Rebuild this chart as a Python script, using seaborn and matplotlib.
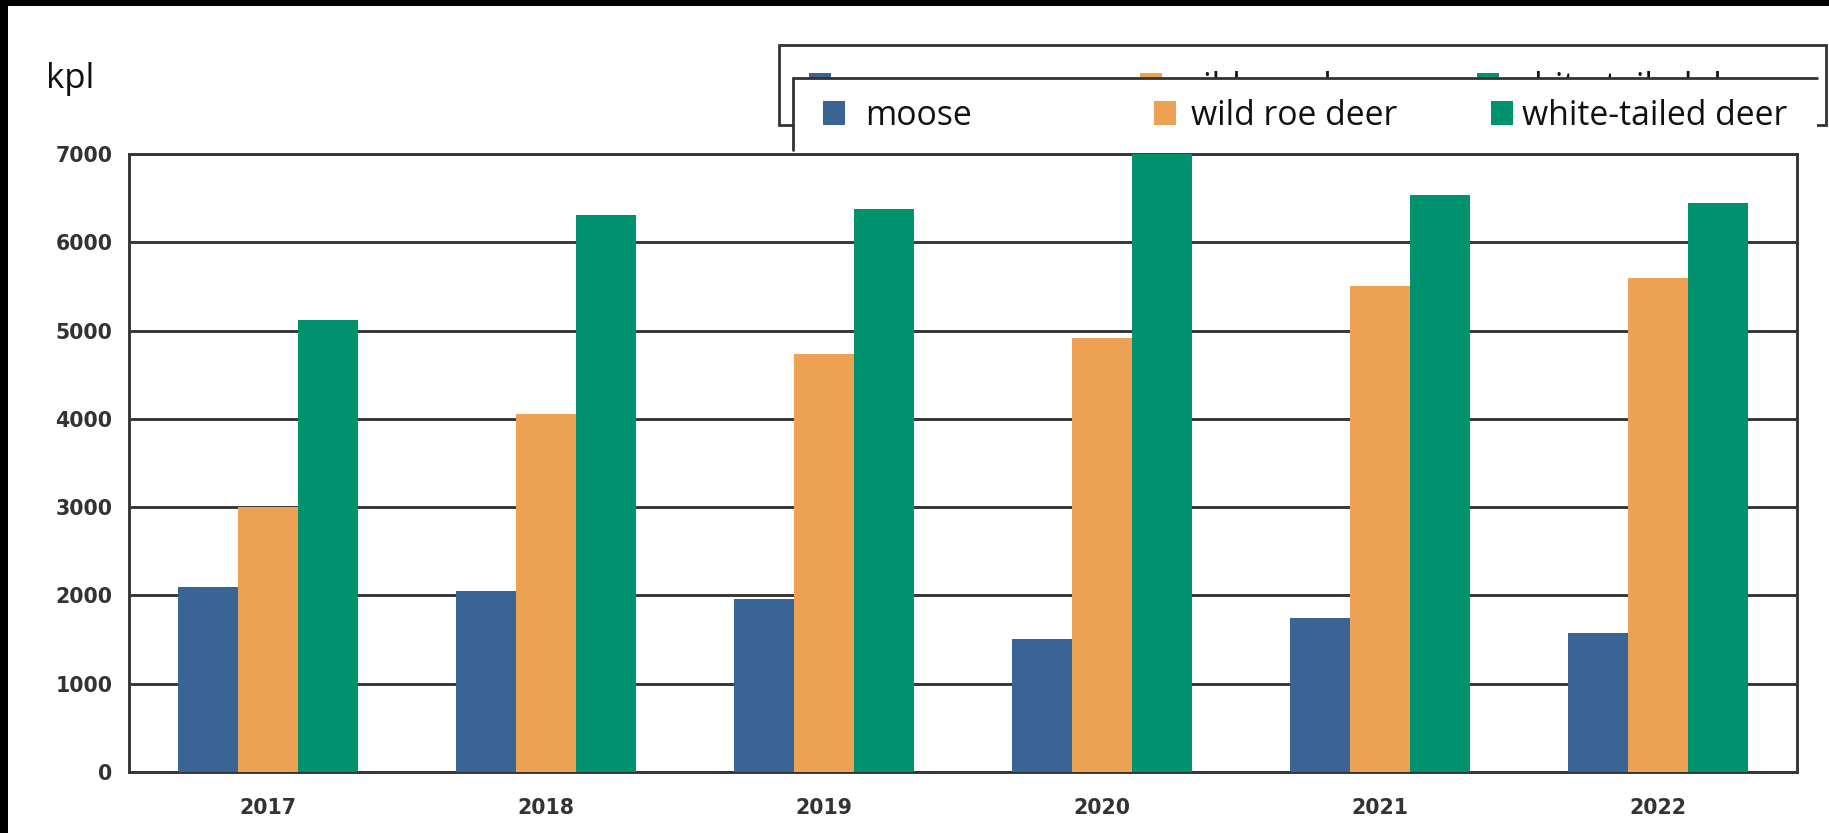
import numpy as np
import pandas as pd
import matplotlib
matplotlib.use("Agg")
import matplotlib.pyplot as plt
import seaborn as sns
from matplotlib.patches import Patch, Rectangle
from matplotlib.lines import Line2D

# ---- data ----
years = ["2017", "2018", "2019", "2020", "2021", "2022"]
species = ["moose", "wild roe deer", "white-tailed deer"]
moose = [2090, 2050, 1960, 1510, 1740, 1580]
roe_deer = [3000, 4050, 4730, 4920, 5500, 5600]
white_tailed = [5120, 6310, 6380, 7040, 6540, 6440]
y_ticks = [0, 1000, 2000, 3000, 4000, 5000, 6000, 7000]
unit_label = "kpl"

colors = ["#3a6496", "#eda152", "#00926e"]

df = pd.DataFrame({
    "year": years * 3,
    "species": [species[0]] * 6 + [species[1]] * 6 + [species[2]] * 6,
    "value": moose + roe_deer + white_tailed,
})

W, H = 1829, 833
sns.set_theme(style="white")
plt.rcParams["font.family"] = ["DejaVu Sans"]

fig = plt.figure(figsize=(W / 100, H / 100), dpi=100, facecolor="white")

def fx(x):
    return x / W

def fy(y):
    return 1 - y / H

ax = fig.add_axes([fx(129), fy(772), fx(1797) - fx(129), fy(154) - fy(772)])
ax.set_zorder(5)

sns.barplot(data=df, x="year", y="value", hue="species", hue_order=species,
            palette=colors, width=0.645, saturation=1, legend=False,
            errorbar=None, ax=ax, zorder=3, linewidth=0)

ax.set_ylim(0, 7000)
ax.set_xlim(-0.5, 5.5)
ax.set_yticks(y_ticks)
ax.set_xlabel("")
ax.set_ylabel("")
grid_col = "#363636"
for t in y_ticks:
    ax.axhline(t, color=grid_col, lw=2.1, zorder=1)
ax.tick_params(axis="both", length=0, labelsize=14.8, labelcolor="#333333")
ax.tick_params(axis="y", pad=12)
ax.tick_params(axis="x", pad=19)
for lab in ax.get_xticklabels() + ax.get_yticklabels():
    lab.set_fontweight("bold")
for s in ax.spines.values():
    s.set_color(grid_col)
    s.set_linewidth(2.1)
    s.set_visible(True)

# black screen border (top & left)
fig.patches.append(Rectangle((0, fy(6)), 1, 6 / H, transform=fig.transFigure,
                             facecolor="black", edgecolor="none", zorder=10))
fig.patches.append(Rectangle((0, 0), 8 / W, 1, transform=fig.transFigure,
                             facecolor="black", edgecolor="none", zorder=10))

# unit label
fig.text(fx(46), fy(79), unit_label, fontsize=25, family="Open Sans",
         color="#111111", ha="left", va="center")

box_col = "#333333"
box_lw = 2.0
lg_font = {"family": "Open Sans", "size": 24.3}
text_pads = [0.6, 0.46, 0.27]

def add_entries(xs, yc, z):
    for x, name, c, pad in zip(xs, species, colors, text_pads):
        leg = fig.legend(handles=[Patch(facecolor=c, edgecolor="none")], labels=[name],
                         loc="center left", bbox_to_anchor=(fx(x), fy(yc)),
                         bbox_transform=fig.transFigure, frameon=False,
                         borderpad=0, borderaxespad=0, handlelength=0.65,
                         handleheight=0.7, handletextpad=pad, prop=lg_font)
        for t in leg.get_texts():
            t.set_color("#111111")
        leg.set_zorder(z)

# back (duplicated) legend box, mostly hidden behind the front one
fig.patches.append(Rectangle((fx(779), fy(125)), fx(1826) - fx(779), fy(45) - fy(125),
                             transform=fig.transFigure, facecolor="white",
                             edgecolor=box_col, lw=box_lw, zorder=1))
add_entries([809, 1140, 1477], 88, 2)

# front legend box (white cover with top and left edges)
fig.patches.append(Rectangle((fx(793), fy(152)), fx(1817) - fx(793), fy(78) - fy(152),
                             transform=fig.transFigure, facecolor="white",
                             edgecolor="none", zorder=3))
fig.lines.append(Line2D([fx(793), fx(1817)], [fy(78), fy(78)], transform=fig.transFigure,
                        color=box_col, lw=box_lw, zorder=3.5))
fig.lines.append(Line2D([fx(793), fx(793)], [fy(78), fy(150)], transform=fig.transFigure,
                        color=box_col, lw=box_lw, zorder=3.5))
add_entries([823, 1154, 1491], 116, 4)

fig.savefig("out.png", dpi=100, facecolor="white")
